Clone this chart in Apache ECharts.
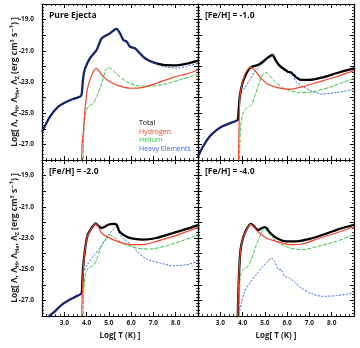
<!DOCTYPE html>
<html>
<head>
<meta charset="utf-8">
<script src="https://cdn.jsdelivr.net/npm/echarts@6/dist/echarts.min.js"></script>
<style>
  html, body { margin: 0; padding: 0; background: #fff; }
  #chart { width: 360px; height: 348px; }
</style>
</head>
<body>
<div id="chart"></div>
<script>
  // log T, log Lambda pairs
  const panelTitles = ['Pure Ejecta', '[Fe/H] = -1.0', '[Fe/H] = -2.0', '[Fe/H] = -4.0']
  const legendNames = ['Total', 'Hydrogen', 'Helium', 'Heavy Elements']

  const pureTotal = [[2.0,-26.2],[2.36,-25.22],[2.73,-24.58],[3.1,-24.26],[3.48,-24.05],[3.75,-23.9],[3.8,-23.5],[3.85,-22.7],[3.93,-22.15],[4.15,-21.48],[4.45,-20.95],[4.68,-20.2],[5.05,-19.88],[5.27,-19.63],[5.35,-19.6],[5.5,-19.88],[5.65,-20.31],[5.8,-20.41],[5.95,-20.74],[6.17,-20.84],[6.39,-21.16],[6.62,-21.48],[6.84,-21.65],[7.14,-21.8],[7.59,-21.92],[8.04,-21.93],[8.49,-21.83],[9.0,-21.63]]
  const pureH = [[3.76,-29],[3.8,-27],[3.85,-26.29],[3.93,-24.79],[4.03,-23.51],[4.15,-22.87],[4.3,-22.34],[4.42,-22.12],[4.52,-22.23],[4.75,-22.66],[5.05,-22.98],[5.5,-23.26],[6.02,-23.4],[6.54,-23.34],[7.14,-23.08],[7.89,-22.7],[8.5,-22.48],[9.0,-22.23]]
  const pureHe = [[3.84,-29],[3.86,-27],[3.9,-25.6],[3.97,-24.9],[4.08,-24.58],[4.3,-24.37],[4.45,-23.94],[4.68,-23.08],[4.83,-22.34],[4.97,-22.06],[5.12,-22.17],[5.35,-22.49],[5.8,-22.98],[6.39,-23.26],[6.99,-23.26],[7.59,-23.1],[8.34,-22.8],[9.0,-22.49]]
  const pureZ = [[2.0,-26.2],[2.36,-25.22],[2.73,-24.58],[3.1,-24.26],[3.48,-24.05],[3.75,-23.9],[3.8,-23.5],[3.85,-22.7],[3.93,-22.15],[4.15,-21.48],[4.45,-20.95],[4.68,-20.2],[5.05,-19.88],[5.27,-19.63],[5.35,-19.6],[5.5,-19.88],[5.65,-20.31],[5.8,-20.41],[5.95,-20.74],[6.17,-20.84],[6.39,-21.16],[6.62,-21.48],[6.84,-21.67],[7.14,-21.86],[7.59,-22.05],[8.04,-22.1],[8.49,-22.0],[9.0,-21.8]]

  const fe1Total = [[2.0,-27.79],[2.22,-27.15],[2.52,-26.5],[2.83,-26.08],[3.12,-25.82],[3.42,-25.65],[3.72,-25.48],[3.79,-25.4],[3.82,-24.9],[3.86,-24.1],[3.92,-23.55],[4.0,-23.05],[4.12,-22.6],[4.27,-22.2],[4.42,-22.03],[4.69,-21.91],[4.91,-21.7],[5.14,-21.42],[5.34,-21.27],[5.48,-21.59],[5.63,-21.91],[5.81,-22.12],[6.04,-22.34],[6.19,-22.4],[6.41,-22.7],[6.64,-22.87],[7.01,-22.87],[7.6,-22.7],[8.2,-22.44],[9.0,-22.12]]
  const fe1H = [[3.8,-29],[3.83,-27],[3.87,-24.15],[3.95,-23.3],[4.09,-22.55],[4.24,-22.17],[4.39,-22.06],[4.54,-22.23],[4.77,-22.66],[5.07,-23.08],[5.52,-23.34],[6.11,-23.47],[6.71,-23.3],[7.46,-22.98],[8.2,-22.66],[9.0,-22.27]]
  const fe1He = [[3.86,-29],[3.88,-27],[3.91,-25.85],[4.02,-25.0],[4.17,-24.69],[4.39,-24.47],[4.54,-23.94],[4.77,-22.98],[4.91,-22.49],[5.04,-22.4],[5.22,-22.62],[5.52,-23.08],[5.96,-23.47],[6.56,-23.68],[7.16,-23.62],[7.9,-23.34],[9.0,-22.76]]
  const fe1Z = [[2.0,-27.79],[2.22,-27.15],[2.52,-26.5],[2.83,-26.08],[3.12,-25.82],[3.42,-25.65],[3.72,-25.48],[3.79,-25.4],[3.85,-24.2],[3.93,-23.7],[4.09,-23.4],[4.32,-22.87],[4.54,-22.34],[4.77,-22.02],[4.99,-21.7],[5.22,-21.42],[5.34,-21.33],[5.48,-21.65],[5.63,-21.97],[5.81,-22.2],[6.04,-22.4],[6.19,-22.48],[6.41,-22.98],[6.71,-23.3],[7.16,-23.62],[7.6,-23.77],[8.2,-23.68],[9.0,-23.47]]

  const fe2Total = [[2.3,-28.2],[2.33,-28.0],[2.58,-27.7],[2.88,-27.28],[3.18,-27.0],[3.48,-26.78],[3.7,-26.63],[3.78,-26.53],[3.81,-25.8],[3.85,-24.82],[3.93,-23.75],[4.03,-22.9],[4.15,-22.53],[4.3,-22.21],[4.41,-22.06],[4.52,-22.21],[4.67,-22.36],[4.8,-22.3],[4.97,-22.15],[5.2,-22.1],[5.35,-22.15],[5.47,-22.58],[5.65,-22.79],[5.87,-22.96],[6.09,-23.04],[6.54,-23.11],[7.14,-23.0],[7.89,-22.68],[8.49,-22.42],[9.0,-22.17]]
  const fe2H = [[3.77,-29],[3.8,-27],[3.85,-25.0],[3.93,-23.8],[4.03,-22.95],[4.15,-22.55],[4.3,-22.23],[4.41,-22.08],[4.52,-22.25],[4.67,-22.68],[4.97,-22.96],[5.5,-23.28],[6.09,-23.43],[6.54,-23.43],[7.14,-23.22],[7.89,-22.9],[9.0,-22.32]]
  const fe2He = [[3.84,-29],[3.86,-27],[3.93,-25.46],[4.08,-24.92],[4.3,-24.78],[4.45,-24.39],[4.68,-23.43],[4.9,-23.0],[5.05,-22.79],[5.27,-23.0],[5.65,-23.37],[6.25,-23.64],[6.84,-23.71],[7.59,-23.5],[8.34,-23.15],[9.0,-22.8]]
  const fe2Z = [[2.3,-28.2],[2.33,-28.0],[2.58,-27.7],[2.88,-27.28],[3.18,-27.0],[3.48,-26.78],[3.7,-26.63],[3.78,-26.53],[3.82,-25.8],[3.85,-25.24],[4.03,-24.71],[4.3,-24.18],[4.6,-23.64],[4.9,-23.0],[5.12,-22.58],[5.35,-22.3],[5.5,-22.79],[5.72,-23.11],[6.02,-23.43],[6.32,-23.96],[6.7,-24.35],[7.29,-24.6],[7.89,-24.78],[8.49,-24.71],[9.0,-24.5]]

  const fe4Total = [[3.77,-29],[3.8,-27.0],[3.85,-25.0],[3.91,-23.75],[4.02,-23.0],[4.17,-22.47],[4.36,-22.1],[4.5,-22.22],[4.69,-22.5],[4.85,-22.38],[4.99,-22.3],[5.1,-22.4],[5.22,-22.65],[5.52,-23.0],[5.96,-23.22],[6.41,-23.22],[7.01,-23.06],[7.76,-22.72],[8.35,-22.42],[9.0,-22.15]]
  const fe4H = [[3.77,-29],[3.8,-27.0],[3.85,-25.0],[3.91,-23.77],[4.02,-23.02],[4.17,-22.5],[4.36,-22.13],[4.5,-22.28],[4.69,-22.6],[5.07,-23.0],[5.52,-23.22],[6.11,-23.43],[6.71,-23.37],[7.46,-23.0],[8.2,-22.68],[9.0,-22.26]]
  const fe4He = [[3.84,-29],[3.86,-27],[3.9,-25.46],[4.02,-25.03],[4.24,-24.82],[4.39,-24.39],[4.62,-23.43],[4.84,-22.68],[4.99,-22.42],[5.14,-22.64],[5.52,-23.22],[6.11,-23.64],[6.71,-23.75],[7.46,-23.5],[8.2,-23.22],[9.0,-22.79]]
  const fe4Z = [[3.83,-29],[3.86,-27.8],[3.95,-27.17],[4.09,-26.42],[4.32,-25.88],[4.62,-25.35],[4.91,-24.82],[5.14,-24.5],[5.29,-24.28],[5.44,-24.5],[5.59,-24.99],[5.74,-25.03],[5.89,-25.46],[6.11,-25.56],[6.34,-25.85],[6.64,-26.2],[7.09,-26.57],[7.6,-26.74],[8.2,-26.7],[9.0,-26.53]]

  // log T below which the total is metal dominated (drawn navy)
  const navyUntil = [7.1, 3.8, 3.8, 0]

  const panels = [
    [pureTotal, pureH, pureHe, pureZ],
    [fe1Total, fe1H, fe1He, fe1Z],
    [fe2Total, fe2H, fe2He, fe2Z],
    [fe4Total, fe4H, fe4He, fe4Z]
  ]

  const FONT = '"Open Sans", "DejaVu Sans", sans-serif'
  const COLORS = { total: '#000000', h: '#f2452c', he: '#35c244', z: '#3b68e6', navy: '#16256b' }

  const gridPos = [
    { left: 42, top: 4 },
    { left: 198, top: 4 },
    { left: 42, top: 160 },
    { left: 198, top: 160 }
  ]

  const chart = echarts.init(document.getElementById('chart'))

  const axisLine = { show: true, onZero: false, lineStyle: { color: '#000', width: 1.2 } }
  const tick = { inside: true, length: 4, lineStyle: { color: '#000', width: 1 } }
  const minor = { show: true, splitNumber: 5, length: 2, lineStyle: { color: '#000', width: 0.8 } }
  const labelStyle = { fontSize: 6.5, fontWeight: 'bold', color: '#222', fontFamily: FONT }

  const yName = 'Log[ Λ, Λ{s|H}, Λ{s|He}, Λ{s|Z} (erg cm³ s⁻¹) ]'

  const grids = []
  const xAxes = []
  const yAxes = []
  gridPos.forEach((p, g) => {
    grids.push({ left: p.left, top: p.top, width: 156, height: 156 })
    const bottomRow = g >= 2
    const leftCol = g % 2 === 0
    const xBase = { type: 'value', gridIndex: g, min: 2, max: 9, interval: 1, axisLine, axisTick: tick, minorTick: minor, splitLine: { show: false } }
    xAxes.push(Object.assign({}, xBase, {
      position: 'bottom',
      axisLabel: { show: bottomRow, margin: 4, ...labelStyle, formatter: v => (v > 2 && v < 9 ? v.toFixed(1) : '') },
      name: bottomRow ? 'Log[ T (K) ]' : '',
      nameLocation: 'middle',
      nameGap: 16,
      nameMoveOverlap: false,
      nameTextStyle: { fontSize: 8, fontWeight: 'bold', color: '#222', fontFamily: FONT }
    }))
    xAxes.push(Object.assign({}, xBase, { position: 'top', axisLabel: { show: false } }))

    const yBase = { type: 'value', gridIndex: g, min: -28, max: -18, interval: 1, axisLine, axisTick: tick, minorTick: minor, splitLine: { show: false } }
    yAxes.push(Object.assign({}, yBase, {
      position: 'left',
      axisLabel: { show: leftCol, margin: 8, ...labelStyle, formatter: v => (Math.abs(v) % 2 === 1 ? v.toFixed(1) : '') },
      name: leftCol ? yName : '',
      nameLocation: 'middle',
      nameGap: 22,
      nameMoveOverlap: false,
      nameTextStyle: {
        fontSize: 8.5, fontWeight: 'bold', color: '#222', fontFamily: FONT, lineHeight: 11,
        rich: { s: { fontSize: 5.5, fontWeight: 'bold', color: '#222', fontFamily: FONT, verticalAlign: 'bottom', lineHeight: 11 } }
      }
    }))
    yAxes.push(Object.assign({}, yBase, { position: 'right', axisLabel: { show: false } }))
  })

  // sharp colour switch along x for the total line
  function totalColor(data, xCut) {
    const x0 = data[0][0]
    const x1 = data[data.length - 1][0]
    const f = Math.max(0, Math.min(1, (xCut - x0) / (x1 - x0)))
    if (f <= 0) return COLORS.total
    return new echarts.graphic.LinearGradient(0, 0, 1, 0, [
      { offset: 0, color: COLORS.navy },
      { offset: f, color: COLORS.navy },
      { offset: f, color: COLORS.total },
      { offset: 1, color: COLORS.total }
    ])
  }

  const series = []
  panels.forEach((arr, g) => {
    const common = { type: 'line', xAxisIndex: g * 2, yAxisIndex: g * 2, showSymbol: false, symbol: 'none', smooth: 0.25, clip: true, silent: true }
    series.push({ ...common, name: 'Heavy Elements', data: arr[3], itemStyle: { color: COLORS.z }, lineStyle: { color: COLORS.z, width: 1, type: [2, 1.5] }, z: 1 })
    series.push({ ...common, name: 'Total', data: arr[0], itemStyle: { color: COLORS.total }, lineStyle: { color: totalColor(arr[0], navyUntil[g]), width: 2.3 }, z: 2 })
    series.push({ ...common, name: 'Helium', data: arr[2], itemStyle: { color: COLORS.he }, lineStyle: { color: COLORS.he, width: 1, type: [4, 1.5] }, z: 3 })
    series.push({ ...common, name: 'Hydrogen', data: arr[1], itemStyle: { color: COLORS.h }, lineStyle: { color: COLORS.h, width: 1.2 }, z: 3 })
  })

  const legendColors = [COLORS.total, COLORS.h, COLORS.he, COLORS.z]

  chart.setOption({
    animation: false,
    backgroundColor: '#fff',
    title: panelTitles.map((t, i) => ({
      text: t,
      left: gridPos[i].left + 7,
      top: gridPos[i].top + 7,
      padding: 0,
      textStyle: { fontSize: 8.5, fontWeight: 'bold', color: '#111', fontFamily: FONT }
    })),
    legend: {
      left: 129,
      top: 114,
      orient: 'vertical',
      icon: 'none',
      itemWidth: 0,
      itemHeight: 8,
      itemGap: 1,
      selectedMode: false,
      data: legendNames.map((n, i) => ({ name: n, textStyle: { color: legendColors[i] } })),
      textStyle: { fontSize: 7, fontFamily: FONT }
    },
    grid: grids,
    xAxis: xAxes,
    yAxis: yAxes,
    series
  })
</script>
</body>
</html>
